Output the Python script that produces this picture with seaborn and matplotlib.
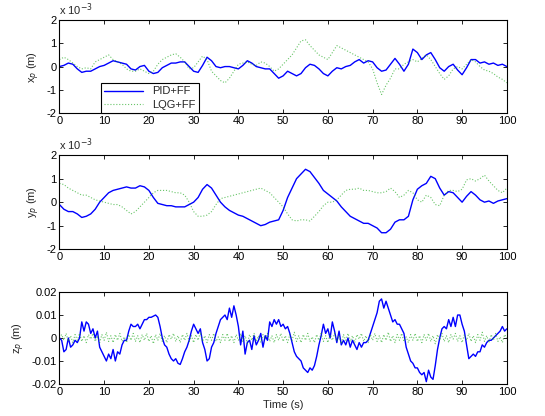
import numpy as np
import pandas as pd
import matplotlib
matplotlib.use('Agg')
import matplotlib.pyplot as plt
import seaborn as sns

# 1 s sampling for x and y, 0.5 s for z
t1 = list(range(0, 101))
t_half = [i * 0.5 for i in range(0, 201)]

# x_p (units of 1e-3 m)
x_pid = [0, 0.05, 0.15, 0.1, -0.1, -0.25, -0.2, -0.2, -0.1, 0.0,
         0.05, 0.15, 0.25, 0.2, 0.15, 0.1, -0.1, -0.15, 0.0, 0.05,
         -0.2, -0.3, -0.25, -0.05, 0.05, 0.15, 0.15, 0.2, 0.2, 0.0,
         -0.2, -0.25, 0.05, 0.4, 0.25, 0.0, -0.05, 0.0, 0.0, -0.05,
         -0.1, 0.05, 0.25, 0.15, 0.0, -0.05, -0.1, -0.1, -0.3, -0.5,
         -0.4, -0.2, -0.3, -0.4, -0.3, -0.05, 0.1, 0.05, -0.1, -0.3,
         -0.4, -0.2, -0.05, -0.1, 0.0, 0.05, 0.2, 0.3, 0.15, 0.25,
         0.2, -0.05, -0.2, -0.15, 0.1, 0.35, 0.1, -0.2, 0.1, 0.75,
         0.6, 0.3, 0.5, 0.6, 0.3, -0.05, -0.2, 0.0, 0.1, -0.15,
         -0.35, -0.05, 0.3, 0.3, 0.15, 0.2, 0.1, 0.15, 0.05, 0.1, 0.0]
x_lqg = [0.3, 0.4, 0.3, 0.15, 0.0, -0.1, -0.05, -0.1, 0.2, 0.3,
         0.4, 0.5, 0.3, 0.2, 0.1, -0.1, -0.2, -0.2, -0.1, -0.2,
         -0.3, -0.2, 0.1, 0.3, 0.4, 0.5, 0.55, 0.4, 0.2, -0.1,
         -0.05, 0.2, 0.45, 0.3, -0.2, -0.4, -0.6, -0.7, -0.5, -0.2,
         0.1, 0.15, 0.2, 0.1, 0.05, 0.2, 0.15, 0.0, -0.2, -0.1,
         0.1, 0.3, 0.5, 0.8, 1.1, 1.15, 0.9, 0.7, 0.5, 0.4,
         0.3, 0.6, 0.9, 0.8, 0.7, 0.6, 0.5, 0.4, 0.3, 0.2,
         -0.1, -0.7, -1.2, -0.8, -0.5, -0.1, -0.1, 0.1, 0.2, 0.3,
         0.2, 0.35, 0.5, 0.3, 0.0, -0.3, -0.55, -0.4, -0.1, 0.0,
         -0.1, 0.1, 0.3, 0.2, 0.0, -0.15, -0.2, -0.3, -0.45, -0.55, -0.7]

# y_p (units of 1e-3 m)
y_pid = [-0.1, -0.3, -0.4, -0.4, -0.5, -0.65, -0.6, -0.5, -0.3, 0.0,
         0.2, 0.4, 0.5, 0.55, 0.6, 0.65, 0.6, 0.6, 0.7, 0.65,
         0.5, 0.2, -0.05, -0.1, -0.15, -0.15, -0.2, -0.2, -0.2, -0.1,
         0.0, 0.2, 0.55, 0.75, 0.6, 0.3, 0.0, -0.2, -0.35, -0.45,
         -0.55, -0.6, -0.7, -0.8, -0.9, -1.0, -0.95, -0.85, -0.8, -0.75,
         -0.35, 0.2, 0.6, 1.0, 1.2, 1.4, 1.3, 1.05, 0.8, 0.5,
         0.35, 0.2, 0.05, -0.2, -0.4, -0.6, -0.7, -0.8, -0.9, -0.9,
         -1.0, -1.1, -1.3, -1.3, -1.15, -0.85, -0.75, -0.75, -0.6, 0.1,
         0.55, 0.7, 0.8, 1.1, 1.0, 0.6, 0.3, 0.45, 0.4, 0.2,
         0.0, 0.25, 0.45, 0.3, 0.1, 0.0, 0.05, -0.05, 0.05, 0.1, 0.15]
y_lqg = [0.8, 0.75, 0.6, 0.5, 0.4, 0.3, 0.3, 0.2, 0.1, 0.05,
         0.0, -0.05, -0.1, -0.1, -0.2, -0.35, -0.5, -0.4, -0.2, 0.0,
         0.2, 0.4, 0.5, 0.5, 0.5, 0.45, 0.4, 0.4, 0.3, 0.0,
         -0.4, -0.6, -0.6, -0.55, -0.4, -0.1, 0.15, 0.2, 0.25, 0.3,
         0.35, 0.4, 0.45, 0.5, 0.55, 0.6, 0.5, 0.4, 0.2, 0.0,
         -0.2, -0.5, -0.75, -0.8, -0.75, -0.75, -0.8, -0.6, -0.4, -0.15,
         0.0, 0.0, 0.1, 0.3, 0.5, 0.55, 0.55, 0.6, 0.5, 0.5,
         0.45, 0.4, 0.4, 0.45, 0.6, 0.45, 0.2, 0.3, 0.5, 0.4,
         0.1, 0.0, 0.3, 0.2, -0.1, -0.15, 0.3, 0.5, 0.5, 0.45,
         0.55, 0.95, 1.0, 0.9, 1.0, 1.15, 0.9, 0.7, 0.5, 0.4, 0.6]

# z_p (m), 0.5 s steps
z_pid = [0.0, -0.001, -0.006, -0.005, 0.0, -0.004, -0.003, -0.001, -0.002, 0.0,
         0.007, 0.003, 0.007, 0.006, 0.002, 0.004, 0.0, 0.003, -0.004, -0.006,
         -0.008, -0.01, -0.007, -0.009, -0.005, -0.01, -0.006, -0.007, -0.003, -0.001,
         -0.001, 0.003, 0.006, 0.005, 0.005, 0.006, 0.004, 0.006, 0.008, 0.008,
         0.009, 0.009, 0.0095, 0.01, 0.009, 0.005, 0.0, -0.003, -0.004, -0.007,
         -0.009, -0.01, -0.009, -0.011, -0.0115, -0.009, -0.006, -0.004, -0.001, 0.003,
         0.006, 0.004, 0.002, 0.004, -0.002, -0.005, -0.01, -0.009, -0.004, -0.002,
         0.002, 0.005, 0.008, 0.009, 0.01, 0.008, 0.013, 0.009, 0.014, 0.01,
         0.005, -0.003, 0.003, -0.007, -0.002, -0.001, -0.005, 0.001, -0.003, -0.001,
         0.002, -0.004, 0.001, -0.001, 0.007, 0.005, 0.008, 0.006, 0.008, 0.005,
         0.006, 0.004, 0.005, 0.002, -0.002, -0.006, -0.008, -0.009, -0.01, -0.013,
         -0.014, -0.015, -0.013, -0.014, -0.012, -0.008, -0.003, 0.001, 0.006, 0.002,
         0.004, 0.0, 0.007, 0.003, -0.002, 0.003, -0.003, -0.001, -0.003, 0.0,
         -0.004, -0.001, -0.003, -0.005, -0.002, -0.004, -0.002, -0.002, -0.001, 0.002,
         0.005, 0.008, 0.011, 0.016, 0.017, 0.013, 0.016, 0.013, 0.01, 0.007,
         0.008, 0.006, 0.006, 0.004, 0.002, -0.004, -0.007, -0.01, -0.011, -0.013,
         -0.013, -0.015, -0.016, -0.015, -0.019, -0.014, -0.017, -0.018, -0.012, -0.005,
         0.0, 0.004, 0.005, 0.004, 0.008, 0.005, 0.009, 0.005, 0.01, 0.01,
         0.006, 0.003, -0.003, -0.009, -0.008, -0.007, -0.008, -0.006, -0.006, -0.003,
         -0.004, -0.002, -0.001, -0.001, 0.0, 0.001, 0.002, 0.003, 0.005, 0.003, 0.004]
z_lqg = [0.0, 0.0015, -0.001, 0.002, -0.0015, 0.001, -0.002, 0.0015, -0.001, 0.002,
         -0.0015, 0.001, -0.002, 0.0015, -0.0005, 0.002, -0.0015, 0.001, -0.002, 0.0015,
         -0.001, 0.0025, -0.0015, 0.001, -0.002, 0.0015, -0.001, 0.002, -0.0015, 0.0005,
         -0.002, 0.0015, -0.001, 0.002, -0.0015, 0.001, -0.002, 0.0015, -0.001, 0.002,
         -0.0015, 0.001, -0.0025, 0.0015, -0.001, 0.002, -0.0015, 0.001, -0.002, 0.0015,
         -0.0005, 0.002, -0.0015, 0.001, -0.002, 0.0015, -0.001, 0.002, -0.0015, 0.001,
         -0.002, 0.0015, -0.001, 0.0025, -0.0015, 0.001, -0.002, 0.0015, -0.001, 0.002,
         -0.0015, 0.0005, -0.002, 0.0015, -0.001, 0.002, -0.0015, 0.001, -0.002, 0.0015,
         -0.001, 0.002, -0.0015, 0.001, -0.0025, 0.0015, -0.001, 0.002, -0.0015, 0.001,
         -0.002, 0.0015, -0.0005, 0.002, -0.0015, 0.001, -0.002, 0.0015, -0.001, 0.002,
         -0.0015, 0.001, -0.002, 0.0015, -0.001, 0.0025, -0.0015, 0.001, -0.002, 0.0015,
         -0.001, 0.002, -0.0015, 0.0005, -0.002, 0.0015, -0.001, 0.002, -0.0015, 0.001,
         -0.002, 0.0015, -0.001, 0.002, -0.0015, 0.001, -0.0025, 0.0015, -0.001, 0.002,
         -0.0015, 0.001, -0.002, 0.0015, -0.0005, 0.002, -0.0015, 0.001, -0.002, 0.0015,
         -0.001, 0.002, -0.0015, 0.001, -0.002, 0.0015, -0.001, 0.0025, -0.0015, 0.001,
         -0.002, 0.0015, -0.001, 0.002, -0.0015, 0.0005, -0.002, 0.0015, -0.001, 0.002,
         -0.0015, 0.001, -0.002, 0.0015, -0.001, 0.002, -0.0015, 0.001, -0.0025, 0.0015,
         -0.001, 0.002, -0.0015, 0.001, -0.002, 0.0015, -0.0005, 0.002, -0.0015, 0.001,
         -0.002, 0.0015, -0.001, 0.002, -0.0015, 0.001, -0.002, 0.0015, -0.001, 0.0025,
         -0.0015, 0.001, -0.002, 0.0015, -0.001, 0.002, -0.0015, 0.0005, -0.002, 0.0015, 0.0]

BLUE = (0, 0, 1)
GREEN = (0.1, 0.65, 0.1)

sns.set_style('ticks')
plt.rcParams['font.family'] = ['Liberation Sans', 'DejaVu Sans']
plt.rcParams['axes.unicode_minus'] = False
plt.rcParams['font.size'] = 8

fig = plt.figure(figsize=(5.45, 4.16), dpi=100)
ax1 = fig.add_axes([0.109, 0.728, 0.821, 0.224])
ax2 = fig.add_axes([0.109, 0.401, 0.821, 0.226])
ax3 = fig.add_axes([0.109, 0.077, 0.821, 0.221])

panels = [
    (ax1, t1, x_pid, x_lqg, 'x$_p$ (m)'),
    (ax2, t1, y_pid, y_lqg, 'y$_p$ (m)'),
    (ax3, t_half, z_pid, z_lqg, 'z$_p$ (m)'),
]

for ax, t, pid, lqg, lab in panels:
    sns.lineplot(x=t, y=pid, ax=ax, color=BLUE, linewidth=1.0, label='PID+FF',
                 estimator=None)
    sns.lineplot(x=t, y=lqg, ax=ax, color=GREEN, linewidth=0.8, linestyle=':',
                 label='LQG+FF', estimator=None, alpha=0.65)
    ax.set_xlim(0, 100)
    ax.set_xticks(range(0, 101, 10))
    ax.set_ylabel(lab, fontsize=8, labelpad=3)
    ax.tick_params(direction='in', top=True, right=True, length=3, width=0.6,
                   labelsize=8, pad=2, colors='black')
    for s in ax.spines.values():
        s.set_linewidth(0.8)
        s.set_color('black')
    if ax is not ax1:
        ax.get_legend().remove()

for ax in (ax1, ax2):
    ax.set_ylim(-2, 2)
    ax.set_yticks([-2, -1, 0, 1, 2])
    ax.text(0.0, 1.02, 'x 10$^{-3}$', transform=ax.transAxes, fontsize=8,
            ha='left', va='bottom')

ax3.set_ylim(-0.02, 0.02)
ax3.set_yticks([-0.02, -0.01, 0, 0.01, 0.02])
ax3.set_yticklabels(['-0.02', '-0.01', '0', '0.01', '0.02'])
ax3.set_xlabel('Time (s)', fontsize=8, labelpad=2)

leg = ax1.legend(loc='lower left', bbox_to_anchor=(0.093, 0.0), frameon=True,
                 fancybox=False, fontsize=8, handlelength=3.5, borderpad=0.3,
                 labelspacing=0.3, borderaxespad=0)
leg.get_frame().set_edgecolor('black')
leg.get_frame().set_linewidth(0.8)
leg.get_frame().set_alpha(1)

fig.savefig('out.png', dpi=100)
